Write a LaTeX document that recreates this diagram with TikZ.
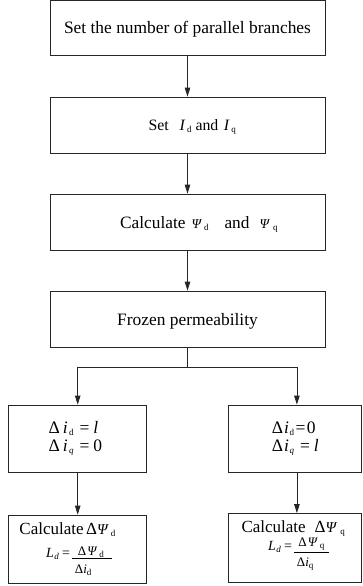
\documentclass[tikz,border=0pt]{standalone}
\usepackage{fontspec}
\setmainfont{Liberation Serif}
\usetikzlibrary{arrows.meta}
\newcommand\sbs[1]{\raisebox{-2.2pt}{\fontsize{9}{9}\selectfont #1}}
\newcommand\fsz[1]{\fontsize{#1}{#1}\selectfont}
% numerator, denominator, bar width, numerator indent, denominator indent
\newcommand\fracx[5]{\raisebox{-16pt}{\vbox{\hbox{\hspace{#4}#1}\kern1pt\hrule width #3 height 0.6pt\kern5.5pt\hbox{\hspace{#5}#2}}}}
\begin{document}
\begin{tikzpicture}[x=1pt,y=1pt,
  box/.style={draw=black!85, line width=0.8pt, rectangle, inner sep=0pt},
  arr/.style={draw=black!85, line width=0.8pt, -{Triangle[length=9pt,width=5.5pt]}},
  ln/.style={draw=black!85, line width=0.8pt},
  txt/.style={inner sep=0pt, anchor=base west},
  ctxt/.style={inner sep=0pt, anchor=base}]
\useasboundingbox (0,0) rectangle (362,-586);
% boxes
\node[box, minimum width=275pt, minimum height=54.5pt] (b1) at (187.5,-27.75) {};
\node[box, minimum width=275pt, minimum height=56pt] (b2) at (187.5,-125) {};
\node[box, minimum width=275pt, minimum height=56pt] (b3) at (187.5,-222) {};
\node[box, minimum width=275pt, minimum height=56pt] (b4) at (187.5,-319) {};
\node[box, minimum width=138pt, minimum height=67pt] (b5l) at (77.7,-438.5) {};
\node[box, minimum width=133.2pt, minimum height=67pt] (b5r) at (294.9,-438.5) {};
\node[box, minimum width=138pt, minimum height=68pt] (b6l) at (77.7,-549) {};
\node[box, minimum width=133.2pt, minimum height=69pt] (b6r) at (294.9,-548) {};
% connectors
\coordinate (j) at (187.5,-367);
\draw[arr] (b1.south) -- (b2.north);
\draw[arr] (b2.south) -- (b3.north);
\draw[arr] (b3.south) -- (b4.north);
\draw[ln] (b4.south) -- (j);
\draw[arr] (j) -| (b5l.north);
\draw[arr] (j) -| ([xshift=2pt]b5r.north);
\draw[arr] (b5l.south) -- (b6l.north);
\draw[arr] ([xshift=2pt]b5r.south) -- ([xshift=2pt]b6r.north);
% texts
\node[ctxt] (t1) at (187.5,-33.5) {\fsz{17.4}Set the number of parallel branches};
\node[txt] (t2) at (148.3,-130.7) {\fsz{15.8}Set\hspace{11pt}\textit{I}\hspace{1.5pt}\sbs{d}\hspace{4pt}and\hspace{5.5pt}\textit{I}\hspace{1.5pt}\sbs{q}};
\node[txt] (t3) at (120,-228.3) {\fsz{17.3}Calculate\hspace{6pt}{\fsz{13.5}\textit{Ψ}}\hspace{2pt}\sbs{d}\hspace{16pt}and\hspace{10pt}{\fsz{13.5}\textit{Ψ}}\hspace{3pt}\sbs{q}};
\node[ctxt] (t4) at (187.5,-325) {\fsz{17.4}Frozen permeability};
\node[txt] (t5a) at (48.3,-433.3) {\fsz{17.5}Δ\hspace{3pt}\textit{i}\hspace{1.5pt}\sbs{d}\hspace{6pt}=\hspace{4pt}\textit{l}};
\node[txt] (t5b) at (48.3,-451.5) {\fsz{17.5}Δ\hspace{3pt}\textit{i}\hspace{1.5pt}\sbs{\textit{q}}\hspace{6pt}=\hspace{4pt}0};
\node[txt] (t5c) at (271.7,-433.3) {\fsz{17.5}Δ\hspace{1pt}\textit{i}\hspace{0.5pt}\sbs{d}\hspace{1.5pt}=\hspace{1.5pt}0};
\node[txt] (t5d) at (271.7,-451.5) {\fsz{17.5}Δ\hspace{1pt}\textit{i}\hspace{0.5pt}\sbs{\textit{q}}\hspace{6pt}=\hspace{4pt}\textit{l}};
\node[txt] (t6a) at (19.3,-534) {\fsz{17}Calculate\hspace{2.5pt}Δ{\fsz{15}\textit{Ψ}}\hspace{2pt}\sbs{d}};
\node[txt] (t6b) at (241.3,-532.7) {\fsz{17}Calculate\hspace{9pt}Δ{\fsz{15}\textit{Ψ}}\hspace{3pt}\sbs{q}};
\node[txt] (t7a) at (46,-557) {\fsz{14}\textit{L}\hspace{0.5pt}\sbs{\textit{d}}\hspace{3pt}=\hspace{2pt}\fracx{\fsz{13}Δ\hspace{1pt}\textit{Ψ}\hspace{2pt}\sbs{d}}{\fsz{13}Δ\textit{i}\sbs{d}}{40pt}{6pt}{3pt}};
\node[txt] (t7b) at (268,-550.5) {\fsz{14}\textit{L}\hspace{0.5pt}\sbs{\textit{d}}\hspace{3pt}=\hspace{2pt}\fracx{\fsz{13}Δ\hspace{1pt}\textit{Ψ}\hspace{2pt}\sbs{q}}{\fsz{13}Δ\textit{i}\sbs{q}}{35pt}{4.5pt}{3pt}};
\end{tikzpicture}
\end{document}
